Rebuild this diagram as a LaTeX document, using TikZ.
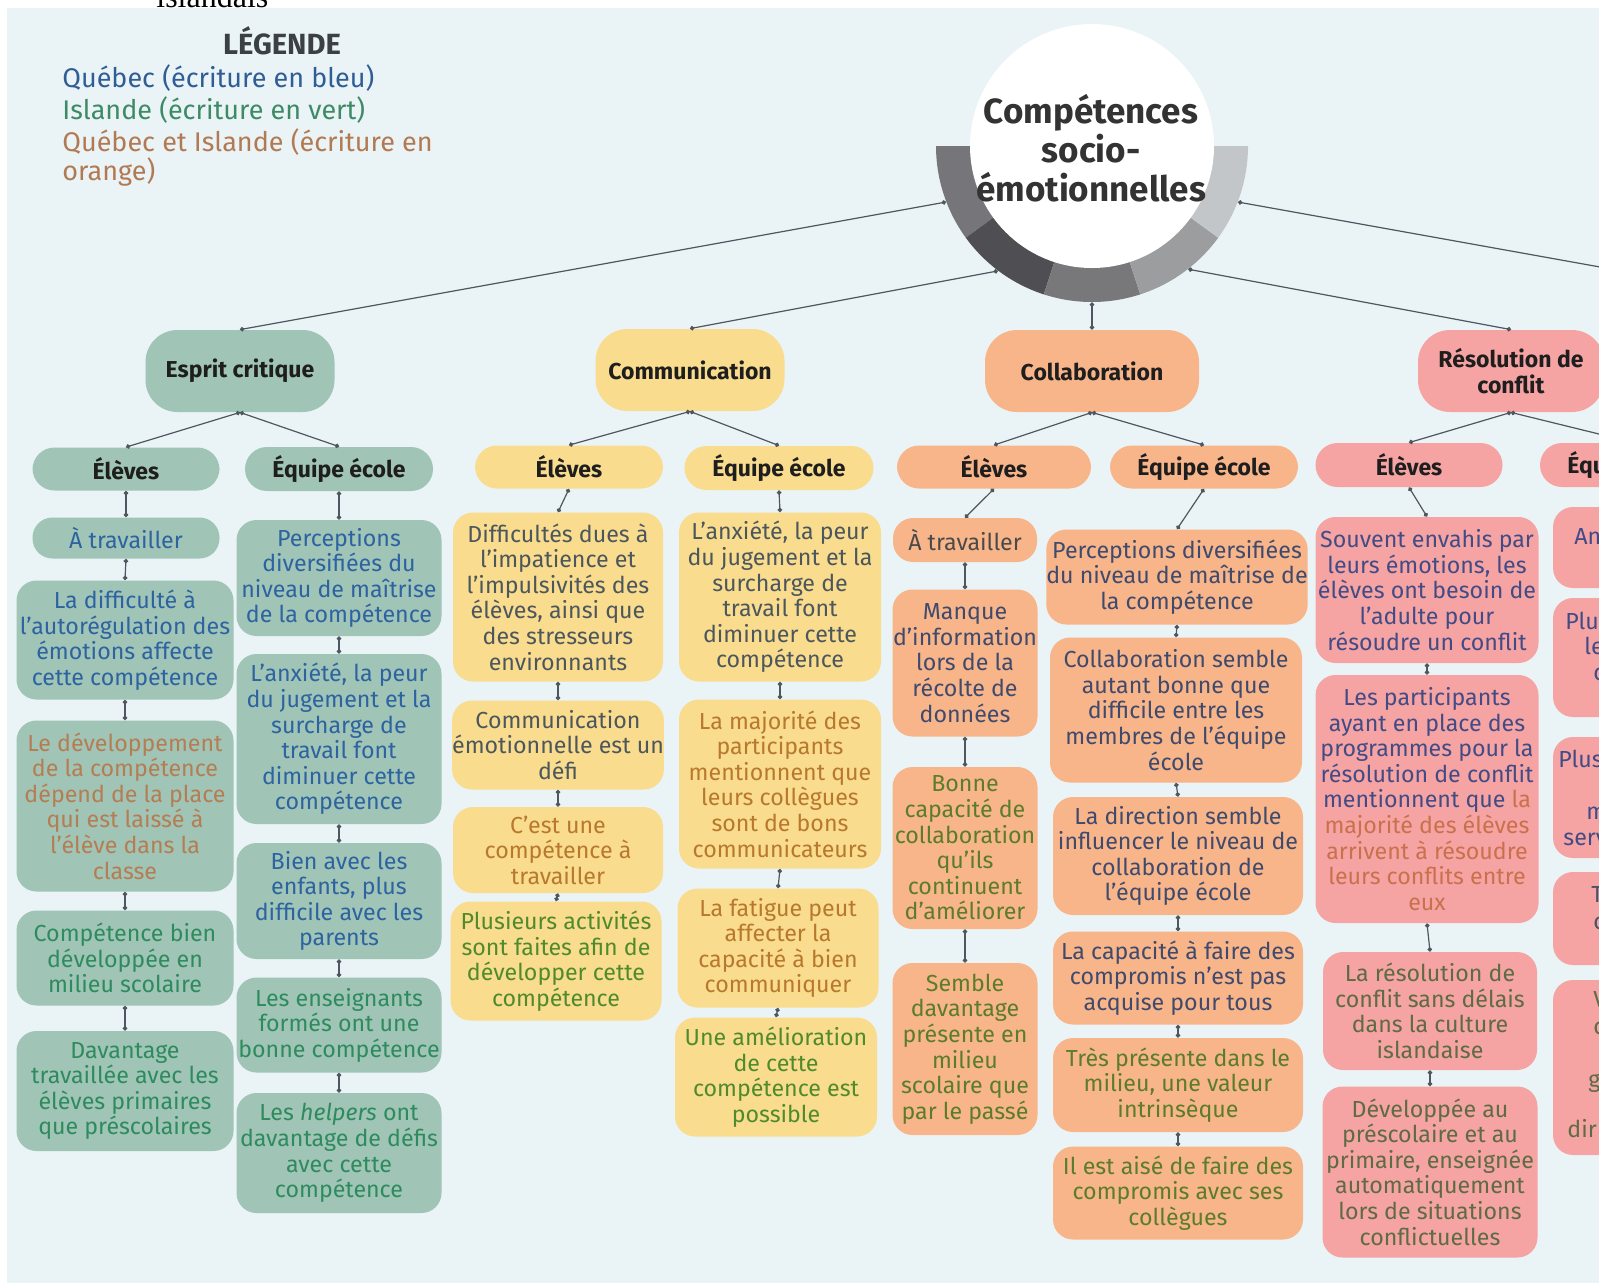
\documentclass[tikz,border=0pt]{standalone}
\usepackage{fontspec}
\setmainfont{Fira Sans}
\newfontfamily\serifb{Liberation Serif}
\usetikzlibrary{arrows.meta}
\definecolor{bg}{HTML}{EAF3F6}
\definecolor{ln}{HTML}{4F5660}
\definecolor{hd}{HTML}{1E1E1E}
\definecolor{rootT}{HTML}{333333}
\definecolor{esF}{HTML}{A0C4B6}
\definecolor{cmF}{HTML}{F9DC8D}
\definecolor{coF}{HTML}{F8B58A}
\definecolor{rcF}{HTML}{F5A4A3}
\definecolor{esBlue}{HTML}{2C63A0}
\definecolor{esGreen}{HTML}{2E8B5E}
\definecolor{esOrange}{HTML}{B57D52}
\definecolor{cmGray}{HTML}{4C575D}
\definecolor{cmOrange}{HTML}{B8782F}
\definecolor{cmGreen}{HTML}{4F8B2C}
\definecolor{coGray}{HTML}{4A4A4A}
\definecolor{coNavy}{HTML}{3F4A6C}
\definecolor{coGreen}{HTML}{5B7D2B}
\definecolor{rcNavy}{HTML}{434B85}
\definecolor{rcOrange}{HTML}{C9704C}
\definecolor{rcGreen}{HTML}{5E6B45}
\definecolor{rcGray}{HTML}{4B5166}
\definecolor{lgBlue}{HTML}{2F5D95}
\definecolor{lgGreen}{HTML}{3E8A66}
\definecolor{lgOrange}{HTML}{B27A52}
\definecolor{lgTitle}{HTML}{3C4045}
\definecolor{ringA}{HTML}{76767A}
\definecolor{ringB}{HTML}{4F4E52}
\definecolor{ringC}{HTML}{78787B}
\definecolor{ringD}{HTML}{9B9D9F}
\definecolor{ringE}{HTML}{C2C6C8}
\newcommand{\bodyf}{\fontsize{11.6pt}{12.8pt}\selectfont}
\newcommand{\headf}{\bfseries\fontsize{11.5pt}{13pt}\selectfont}
\newcommand{\legf}{\fontsize{13.5pt}{15.5pt}\selectfont}
\begin{document}
\begin{tikzpicture}[x=0.5pt,y=-0.5pt,
  cbox/.style={rounded corners=10pt, align=center, inner sep=0pt, font=\bodyf},
  lvltwo/.style={rounded corners=11pt, align=center, inner sep=0pt, font=\headf, text=hd},
  lvlone/.style={rounded corners=16pt, align=center, inner sep=0pt, font=\headf, text=hd},
  frag/.style={anchor=base west, inner sep=0pt, font=\bodyf},
  conn/.style={draw=ln, line width=0.6pt, {Circle[length=2.2pt]}-{Circle[length=2.2pt]}},
  connone/.style={draw=ln, line width=0.6pt, {Circle[length=2.2pt]}-},
  lgd/.style={anchor=base west, inner sep=0pt, font=\legf}]
\useasboundingbox (0,0) rectangle (1599,1286);
\fill[white] (0,0) rectangle (1599,1286);
\fill[bg] (7,8) rectangle (1599,1283);
\node[font=\serifb\fontsize{16pt}{16pt}\selectfont, anchor=base west, inner sep=0pt] (isl) at (156,7) {islandais};

% legend
\node[anchor=base, inner sep=0pt, font=\bfseries\fontsize{14.6pt}{15pt}\selectfont, text=lgTitle] (lgT) at (282,54) {LÉGENDE};
\node[lgd, text=lgBlue] (lg1) at (62,87) {Québec (écriture en bleu)};
\node[lgd, text=lgGreen] (lg2) at (62,119) {Islande (écriture en vert)};
\node[lgd, text=lgOrange] (lg3) at (62,151) {Québec et Islande (écriture en};
\node[lgd, text=lgOrange] (lg4) at (62,180) {orange)};

% central circle
\coordinate (ctr) at (1092,146);
\fill[ringA] (ctr) -- ++(180:78pt) arc[start angle=180,end angle=216,radius=78pt] -- cycle;
\fill[ringB] (ctr) -- ++(216:78pt) arc[start angle=216,end angle=252,radius=78pt] -- cycle;
\fill[ringC] (ctr) -- ++(252:78pt) arc[start angle=252,end angle=288,radius=78pt] -- cycle;
\fill[ringD] (ctr) -- ++(288:78pt) arc[start angle=288,end angle=324,radius=78pt] -- cycle;
\fill[ringE] (ctr) -- ++(324:78pt) arc[start angle=324,end angle=360,radius=78pt] -- cycle;
\fill[white] (ctr) circle[radius=61pt];
\node[circle, minimum size=156pt, inner sep=0pt] (root) at (ctr) {};
\node[align=center, inner sep=0pt, text=rootT, font=\bfseries\fontsize{17.5pt}{19.5pt}\selectfont] (rootlbl) at (1091,148) {Compétences\\socio-\\émotionnelles};

% level one
\node[lvlone, fill=esF, minimum width=94.5pt, minimum height=41pt] (ec) at (240,371) {Esprit critique};
\node[lvlone, fill=cmF, minimum width=94.5pt, minimum height=41pt] (cm) at (690,370) {Communication};
\node[lvlone, fill=coF, minimum width=107pt, minimum height=41pt] (co) at (1092,371) {Collaboration};
\node[lvlone, fill=rcF, minimum width=93pt, minimum height=41pt] (rc) at (1511,371) {Résolution de\\conflit};
\coordinate (offR) at (1600,267);

% level two
\node[lvltwo, fill=esF, minimum width=93.5pt, minimum height=21.5pt] (ece) at (126,469) {Élèves};
\node[lvltwo, fill=esF, minimum width=94pt, minimum height=22pt] (ecq) at (339,469) {Équipe école};
\node[lvltwo, fill=cmF, minimum width=94pt, minimum height=21.5pt] (cme) at (569,467) {Élèves};
\node[lvltwo, fill=cmF, minimum width=94.5pt, minimum height=22pt] (cmq) at (779,468) {Équipe école};
\node[lvltwo, fill=coF, minimum width=97pt, minimum height=21.5pt] (coe) at (994,467) {Élèves};
\node[lvltwo, fill=coF, minimum width=94pt, minimum height=21.5pt] (coq) at (1204,467) {Équipe école};
\node[lvltwo, fill=rcF, minimum width=93.5pt, minimum height=22pt] (rce) at (1409,465) {Élèves};
\node[lvltwo, fill=rcF, minimum width=94pt, minimum height=22pt] (rcq) at (1634,465) {Équipe école};

% Esprit critique - eleves
\node[cbox, fill=esF, text=esBlue, minimum width=93.5pt, minimum height=20.5pt] (ece1) at (126,538) {À travailler};
\node[cbox, fill=esF, text=esBlue, minimum width=108.5pt, minimum height=59.5pt] (ece2) at (125,640) {La difficulté à\\l’autorégulation des\\émotions affecte\\cette compétence};
\node[cbox, fill=esF, text=esOrange, minimum width=108.5pt, minimum height=85.5pt] (ece3) at (125,806) {Le développement\\de la compétence\\dépend de la place\\qui est laissé à\\l’élève dans la\\classe};
\node[cbox, fill=esF, text=esGreen, minimum width=108.5pt, minimum height=47.5pt] (ece4) at (125,958) {Compétence bien\\développée en\\milieu scolaire};
\node[cbox, fill=esF, text=esGreen, minimum width=108.5pt, minimum height=60pt] (ece5) at (125,1091) {Davantage\\travaillée avec les\\élèves primaires\\que préscolaires};
% Esprit critique - equipe
\node[cbox, fill=esF, text=esBlue, minimum width=102.5pt, minimum height=58pt] (ecq1) at (339,578) {Perceptions\\diversifiées du\\niveau de maîtrise\\de la compétence};
\node[cbox, fill=esF, text=esBlue, minimum width=102.5pt, minimum height=85pt] (ecq2) at (339,739) {L’anxiété, la peur\\du jugement et la\\surcharge de\\travail font\\diminuer cette\\compétence};
\node[cbox, fill=esF, text=esBlue, minimum width=102.5pt, minimum height=58pt] (ecq3) at (339,901) {Bien avec les\\enfants, plus\\difficile avec les\\parents};
\node[cbox, fill=esF, text=esGreen, minimum width=102.5pt, minimum height=47.5pt] (ecq4) at (339,1025) {Les enseignants\\formés ont une\\bonne compétence};
\node[cbox, fill=esF, text=esGreen, minimum width=102.5pt, minimum height=60pt] (ecq5) at (339,1153) {Les \textit{helpers} ont\\davantage de défis\\avec cette\\compétence};

% Communication - eleves
\node[cbox, fill=cmF, text=cmGray, minimum width=105pt, minimum height=84.5pt] (cme1) at (558,597) {Difficultés dues à\\l’impatience et\\l’impulsivités des\\élèves, ainsi que\\des stresseurs\\environnants};
\node[cbox, fill=cmF, text=cmGray, minimum width=105pt, minimum height=44.5pt] (cme2) at (558,745) {Communication\\émotionnelle est un\\défi};
\node[cbox, fill=cmF, text=cmOrange, minimum width=105pt, minimum height=43pt] (cme3) at (558,850) {C’est une\\compétence à\\travailler};
\node[cbox, fill=cmF, text=cmGreen, minimum width=105.5pt, minimum height=59.5pt] (cme4) at (556,961) {Plusieurs activités\\sont faites afin de\\développer cette\\compétence};
% Communication - equipe
\node[cbox, fill=cmF, text=cmGray, minimum width=101pt, minimum height=84.5pt] (cmq1) at (780,597) {L’anxiété, la peur\\du jugement et la\\surcharge de\\travail font\\diminuer cette\\compétence};
\node[cbox, fill=cmF, text=cmOrange, minimum width=101pt, minimum height=84.5pt] (cmq2) at (780,784) {La majorité des\\participants\\mentionnent que\\leurs collègues\\sont de bons\\communicateurs};
\node[cbox, fill=cmF, text=cmOrange, minimum width=100.5pt, minimum height=59.5pt] (cmq3) at (778,948) {La fatigue peut\\affecter la\\capacité à bien\\communiquer};
\node[cbox, fill=cmF, text=cmGreen, minimum width=101pt, minimum height=59.5pt] (cmq4) at (776,1077) {Une amélioration\\de cette\\compétence est\\possible};

% Collaboration - eleves
\node[cbox, fill=coF, text=coGray, minimum width=72pt, minimum height=22pt] (coe1) at (965,540) {À travailler};
\node[cbox, fill=coF, text=coNavy, minimum width=72.5pt, minimum height=73.5pt] (coe2) at (965,663) {Manque\\d’information\\lors de la\\récolte de\\données};
\node[cbox, fill=coF, text=coGreen, minimum width=72.5pt, minimum height=81pt] (coe3) at (965,848) {Bonne\\capacité de\\collaboration\\qu’ils\\continuent\\d’améliorer};
\node[cbox, fill=coF, text=coGreen, minimum width=72.5pt, minimum height=86pt] (coe4) at (965,1049) {Semble\\davantage\\présente en\\milieu\\scolaire que\\par le passé};
% Collaboration - equipe
\node[cbox, fill=coF, text=coNavy, minimum width=127pt, minimum height=47.5pt] (coq1) at (1177,577) {Perceptions diversifiées\\du niveau de maîtrise de\\la compétence};
\node[cbox, fill=coF, text=coNavy, minimum width=126pt, minimum height=72.5pt] (coq2) at (1176,710) {Collaboration semble\\autant bonne que\\difficile entre les\\membres de l’équipe\\école};
\node[cbox, fill=coF, text=coNavy, minimum width=125pt, minimum height=59pt] (coq3) at (1178,856) {La direction semble\\influencer le niveau de\\collaboration de\\l’équipe école};
\node[cbox, fill=coF, text=coNavy, minimum width=125pt, minimum height=46.5pt] (coq4) at (1178,978) {La capacité à faire des\\compromis n’est pas\\acquise pour tous};
\node[cbox, fill=coF, text=coGreen, minimum width=125pt, minimum height=47pt] (coq5) at (1178,1085) {Très présente dans le\\milieu, une valeur\\intrinsèque};
\node[cbox, fill=coF, text=coGreen, minimum width=125pt, minimum height=46.5pt] (coq6) at (1178,1193) {Il est aisé de faire des\\compromis avec ses\\collègues};

% Resolution - eleves
\node[cbox, fill=rcF, text=rcNavy, minimum width=111.5pt, minimum height=73pt] (rce1) at (1427,590) {Souvent envahis par\\leurs émotions, les\\élèves ont besoin de\\l’adulte pour\\résoudre un conflit};
\node[cbox, fill=rcF, text=rcNavy, minimum width=111.5pt, minimum height=124pt] (rce2) at (1427,799) {Les participants\\ayant en place des\\programmes pour la\\résolution de conflit\\mentionnent que \textcolor{rcOrange}{la}\\\textcolor{rcOrange}{majorité des élèves}\\\textcolor{rcOrange}{arrivent à résoudre}\\\textcolor{rcOrange}{leurs conflits entre}\\\textcolor{rcOrange}{eux}};
\node[cbox, fill=rcF, text=rcGreen, minimum width=107pt, minimum height=59pt] (rce3) at (1430,1011) {La résolution de\\conflit sans délais\\dans la culture\\islandaise};
\node[cbox, fill=rcF, text=rcGreen, minimum width=107.5pt, minimum height=85.5pt] (rce4) at (1430,1172) {Développée au\\préscolaire et au\\primaire, enseignée\\automatiquement\\lors de situations\\conflictuelles};
% Resolution - equipe (cut at the right edge)
\node[cbox, fill=rcF, minimum width=100pt, minimum height=40.5pt] (rcq1) at (1653,547.5) {};
\node[cbox, fill=rcF, minimum width=100pt, minimum height=59.5pt] (rcq2) at (1653,657.5) {};
\node[cbox, fill=rcF, minimum width=100pt, minimum height=60.5pt] (rcq3) at (1653,797.5) {};
\node[cbox, fill=rcF, minimum width=100pt, minimum height=46.5pt] (rcq4) at (1653,918.5) {};
\node[cbox, fill=rcF, minimum width=100pt, minimum height=87.5pt] (rcq5) at (1653,1067.5) {};
\node[frag, text=rcNavy] (f1) at (1574,544) {An};
\node[frag, text=rcNavy] (f2) at (1565,629) {Plus};
\node[frag, text=rcNavy] (f3) at (1584,654) {le};
\node[frag, text=rcNavy] (f4) at (1593,680) {c};
\node[frag, text=rcNavy] (f5) at (1558,767) {Plus};
\node[frag, text=rcNavy] (f6) at (1586,819) {m};
\node[frag, text=rcNavy] (f7) at (1563,845) {serv};
\node[frag, text=rcGray] (f8) at (1591,902) {T};
\node[frag, text=rcGray] (f9) at (1593,929) {c};
\node[frag, text=rcGreen] (f10) at (1593,1007) {V};
\node[frag, text=rcGreen] (f11) at (1593,1034) {c};
\node[frag, text=rcGreen] (f12) at (1588,1087) {g};
\node[frag, text=rcGreen] (f13) at (1567,1137) {dir};

% connectors
\draw[conn] (root.201) -- (ec.north);
\draw[conn] (root.233) -- (cm.north);
\draw[conn] (root.270) -- (co.north);
\draw[conn] (root.308) -- (rc.north);
\draw[connone] (root.339) -- (offR);
\foreach \a/\b in {ec/ece, ec/ecq, cm/cme, cm/cmq, co/coe, co/coq, rc/rce, rc/rcq,
  ece/ece1, ece1/ece2, ece2/ece3, ece3/ece4, ece4/ece5,
  ecq/ecq1, ecq1/ecq2, ecq2/ecq3, ecq3/ecq4, ecq4/ecq5,
  cme/cme1, cme1/cme2, cme2/cme3, cme3/cme4,
  cmq/cmq1, cmq1/cmq2, cmq2/cmq3, cmq3/cmq4,
  coe/coe1, coe1/coe2, coe2/coe3, coe3/coe4,
  coq/coq1, coq1/coq2, coq2/coq3, coq3/coq4, coq4/coq5, coq5/coq6,
  rce/rce1, rce1/rce2, rce2/rce3, rce3/rce4}
  \draw[conn] (\a.south) -- (\b.north);
\end{tikzpicture}
\end{document}
